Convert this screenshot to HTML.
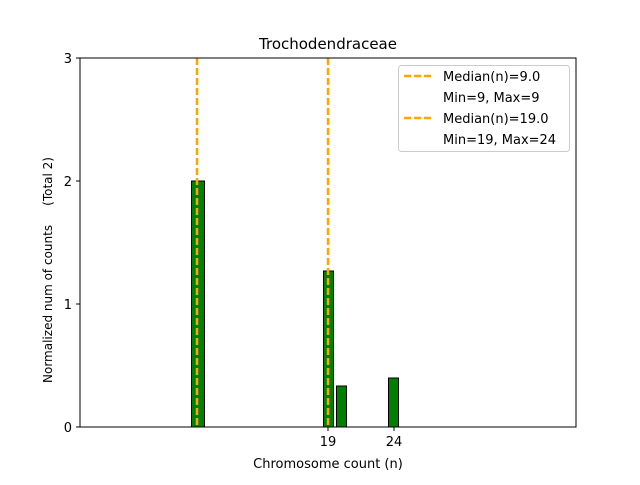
<!DOCTYPE html>
<html><head><style>body{margin:0;background:#fff}</style></head><body>
<svg width="640" height="480" xmlns="http://www.w3.org/2000/svg" font-family="DejaVu Sans, Liberation Sans, sans-serif">
<rect width="640" height="480" fill="#fff"/>
<line x1="80" y1="427" x2="243" y2="427" stroke="#000" stroke-width="1"/>
<rect x="191.5" y="181" width="13" height="246" fill="#008000" stroke="#000" stroke-width="1"/>
<rect x="323.5" y="271" width="10" height="156" fill="#008000" stroke="#000" stroke-width="1"/>
<rect x="336.5" y="386" width="10" height="41" fill="#008000" stroke="#000" stroke-width="1"/>
<rect x="388.5" y="378" width="10" height="49" fill="#008000" stroke="#000" stroke-width="1"/>
<line x1="197" y1="58" x2="197" y2="427" stroke="#ffa500" stroke-width="2.5" stroke-dasharray="7,3"/>
<line x1="328" y1="58" x2="328" y2="427" stroke="#ffa500" stroke-width="2.5" stroke-dasharray="7,3"/>
<rect x="80" y="58" width="496" height="369" fill="none" stroke="#000" stroke-width="1"/>
<g stroke="#000"><line x1="76" y1="427" x2="80" y2="427"/><line x1="76" y1="304" x2="80" y2="304"/><line x1="76" y1="181" x2="80" y2="181"/><line x1="76" y1="58" x2="80" y2="58"/>
<line x1="328" y1="427" x2="328" y2="431"/><line x1="394" y1="427" x2="394" y2="431"/></g>
<g font-size="13" fill="#000" text-anchor="end"><text x="72" y="432">0</text><text x="72" y="309">1</text><text x="72" y="186">2</text><text x="72" y="63">3</text></g>
<g font-size="13" fill="#000" text-anchor="middle"><text x="328" y="446">19</text><text x="394" y="446">24</text>
<text x="328" y="468">Chromosome count (n)</text>
<text x="328" y="49" font-size="15">Trochodendraceae</text></g>
<text transform="translate(52,270) rotate(-90)" font-size="12" text-anchor="middle">Normalized num of counts&#160;&#160;&#160;&#160;&#160;(Total 2)</text>
<rect x="398.5" y="65.5" width="171" height="86" rx="3" fill="#fff" stroke="#ccc"/>
<line x1="404" y1="76" x2="432" y2="76" stroke="#ffa500" stroke-width="2.5" stroke-dasharray="7,3"/>
<line x1="404" y1="118" x2="432" y2="118" stroke="#ffa500" stroke-width="2.5" stroke-dasharray="7,3"/>
<g font-size="13" fill="#000"><text x="443" y="81">Median(n)=9.0</text><text x="443" y="102">Min=9, Max=9</text><text x="443" y="123">Median(n)=19.0</text><text x="443" y="144">Min=19, Max=24</text></g>
</svg>
</body></html>
